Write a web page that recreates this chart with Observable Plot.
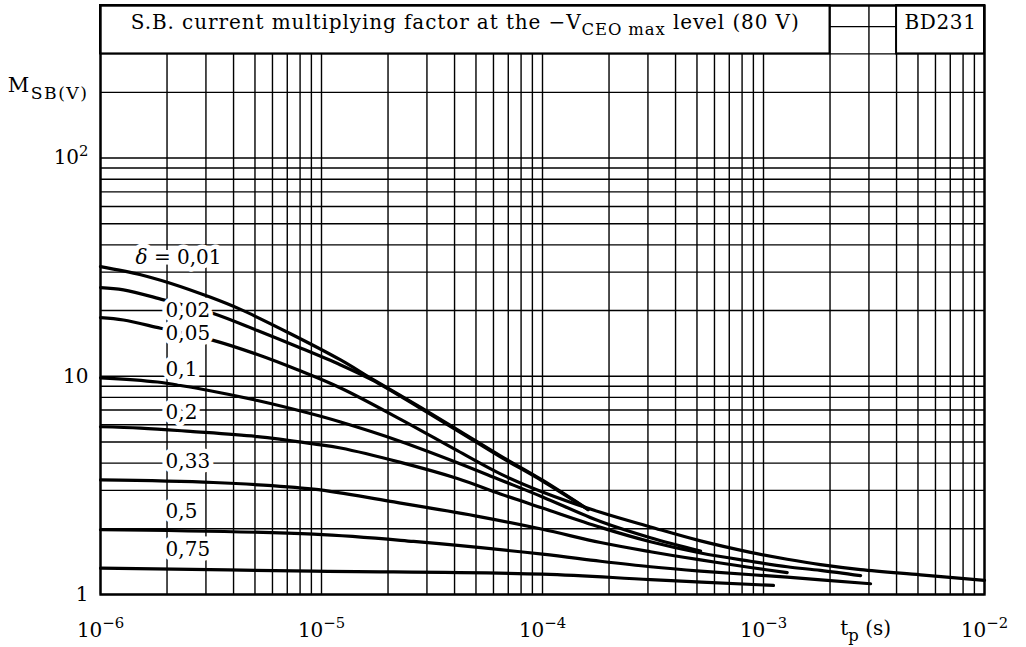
<!DOCTYPE html>
<html>
<head>
<meta charset="utf-8">
<script src="https://cdn.jsdelivr.net/npm/d3@7"></script>
<script src="https://cdn.jsdelivr.net/npm/@observablehq/plot@0.6"></script>
<style>
  html, body { margin: 0; padding: 0; background: #fff; }
  #chart { width: 1026px; height: 647px; }
  svg { display: block; }
</style>
</head>
<body>
<div id="chart"></div>
<script>
// ---------- axis ticks / labels ----------
const xTickValues = [1e-6, 1e-5, 1e-4, 1e-3, 1e-2];
const xTickLabels = ["10^{−6}", "10^{−5}", "10^{−4}", "10^{−3}", "10^{−2}"];
const yTickValues = [1, 10, 100];
const yTickLabels = ["1", "10", "10^{2}"];
const xDecades = [1e-6, 1e-5, 1e-4, 1e-3];
const yDecades = [1, 10, 100];
const mantissas = [1, 2, 3, 4, 5, 6, 7, 8, 9];
const xLast = 1e-2;
const yTop = 500;

// ---------- texts ----------
const titleText = "S.B. current multiplying factor at the −V_{CEO max} level (80 V)";
const typeText = "BD231";
const yAxisTitle = "M_{SB(V)}";
const xAxisTitle = "t_{p} (s)";

// header boxes (data units)
const boxX1 = [1e-6, 4e-3];
const boxX2 = [2e-3, 1e-2];
const boxY1 = [300, 300];
const boxY2 = [500, 500];

// ---------- curves: duty factor delta ----------
const deltaNames = ["0,01", "0,02", "0,05", "0,1", "0,2", "0,33", "0,5", "0,75"];
const deltaLabels = ["*{δ} = 0,01", "0,02", "0,05", "0,1", "0,2", "0,33", "0,5", "0,75"];
const labelT = [1.44e-6, 1.97e-6, 1.97e-6, 1.97e-6, 1.97e-6, 1.97e-6, 1.97e-6, 1.97e-6];
const labelM = [35.0, 20.0, 15.7, 10.7, 6.8, 4.05, 2.39, 1.60];

const t_001 = [1.0e-6, 1.52e-6, 2.07e-6, 3.15e-6, 4.30e-6, 7.24e-6, 1.22e-5, 1.70e-5, 2.81e-5, 4.26e-5, 6.45e-5, 1.0e-4, 1.61e-4];
const m_001 = [31.8, 29.2, 26.7, 23.0, 20.25, 15.67, 11.88, 9.70, 7.20, 5.58, 4.32, 3.34, 2.45];

const t_002 = [1.0e-6, 1.27e-6, 1.93e-6, 3.24e-6, 5.13e-6, 7.79e-6, 1.22e-5, 1.70e-5, 2.81e-5, 4.26e-5, 6.45e-5, 1.0e-4, 1.61e-4];
const m_002 = [25.5, 24.9, 22.4, 19.4, 16.2, 13.65, 11.27, 9.60, 7.12, 5.52, 4.27, 3.31, 2.45];

const t_005 = [1.0e-6, 1.27e-6, 1.87e-6, 3.24e-6, 5.13e-6, 7.79e-6, 1.22e-5, 2.28e-5, 4.12e-5, 6.45e-5, 1.0e-4, 1.83e-4, 3.08e-4, 5.19e-4, 8.73e-4, 1.28e-3, 1.81e-3, 2.75e-3, 5.13e-3, 1.0e-2];
const m_005 = [18.55, 18.1, 16.6, 14.61, 12.58, 10.71, 8.84, 6.35, 4.56, 3.57, 2.95, 2.38, 2.04, 1.76, 1.56, 1.45, 1.37, 1.30, 1.23, 1.16];

const t_01 = [1.0e-6, 1.81e-6, 3.05e-6, 5.13e-6, 8.64e-6, 1.22e-5, 2.28e-5, 4.12e-5, 6.45e-5, 1.0e-4, 1.83e-4, 3.08e-4, 5.19e-4];
const m_01 = [9.84, 9.41, 8.63, 7.74, 6.80, 6.17, 5.03, 4.02, 3.35, 2.80, 2.16, 1.82, 1.58];

const t_02 = [1.0e-6, 1.52e-6, 2.55e-6, 5.13e-6, 9.20e-6, 1.22e-5, 2.28e-5, 4.12e-5, 6.45e-5, 1.0e-4, 1.83e-4, 3.08e-4, 5.19e-4, 8.73e-4, 1.28e-3, 1.81e-3, 2.75e-3];
const m_02 = [5.87, 5.79, 5.59, 5.29, 4.90, 4.69, 4.03, 3.40, 2.89, 2.49, 2.03, 1.745, 1.55, 1.42, 1.34, 1.29, 1.22];

const t_033 = [1.0e-6, 3.24e-6, 9.20e-6, 2.05e-5, 5.24e-5, 1.0e-4, 1.83e-4, 3.08e-4, 5.19e-4, 8.73e-4, 1.28e-3];
const m_033 = [3.35, 3.26, 3.04, 2.67, 2.27, 1.99, 1.73, 1.57, 1.44, 1.33, 1.26];

const t_05 = [1.0e-6, 9.20e-6, 2.61e-5, 1.0e-4, 1.83e-4, 3.08e-4, 5.19e-4, 1.28e-3, 3.05e-3];
const m_05 = [1.98, 1.89, 1.75, 1.53, 1.42, 1.34, 1.28, 1.20, 1.12];

const t_075 = [1.0e-6, 9.20e-6, 1.0e-4, 3.08e-4, 1.11e-3];
const m_075 = [1.32, 1.28, 1.24, 1.17, 1.10];

// ---------- build tables ----------
const seriesT = [t_001, t_002, t_005, t_01, t_02, t_033, t_05, t_075];
const seriesM = [m_001, m_002, m_005, m_01, m_02, m_033, m_05, m_075];
const curveRows = [];
deltaNames.forEach((d, i) => seriesT[i].forEach((t, j) => curveRows.push({delta: d, t, M: seriesM[i][j]})));
const labelRows = deltaNames.map((d, i) => ({t: labelT[i], M: labelM[i], label: deltaLabels[i]}));

const xGrid = [];
xDecades.forEach(d => mantissas.forEach(m => xGrid.push(m * d)));
xGrid.push(xLast);
const yGrid = [];
yDecades.forEach(d => mantissas.forEach(m => { if (m * d <= yTop) yGrid.push(m * d); }));

const boxRows = boxX1.map((x1, i) => ({x1, x2: boxX2[i], y1: boxY1[i], y2: boxY2[i]}));
const headRows = [
  {x: Math.sqrt(boxX1[0] * boxX2[0]), y: Math.sqrt(boxY1[0] * boxY2[0]), text: titleText},
  {x: Math.sqrt(boxX1[1] * boxX2[1]), y: Math.sqrt(boxY1[1] * boxY2[1]), text: typeText}
];

const fmtX = d => xTickLabels[xTickValues.findIndex(v => Math.abs(Math.log10(v) - Math.log10(d)) < 1e-6)];
const fmtY = d => yTickLabels[yTickValues.findIndex(v => Math.abs(Math.log10(v) - Math.log10(d)) < 1e-6)];

const FONT = "DejaVu Serif";
const plot = Plot.plot({
  width: 1026,
  height: 647,
  marginLeft: 100,
  marginRight: 42,
  marginTop: 5,
  marginBottom: 53,
  style: {fontFamily: FONT, fontSize: "20px", background: "white", color: "black"},
  x: {type: "log", domain: [1e-6, 1e-2]},
  y: {type: "log", domain: [1, yTop]},
  marks: [
    Plot.ruleX(xGrid, {stroke: "black", strokeWidth: 1.4}),
    Plot.ruleY(yGrid, {stroke: "black", strokeWidth: 1.4}),
    Plot.rect(boxRows, {x1: "x1", x2: "x2", y1: "y1", y2: "y2", fill: "white", stroke: "black", strokeWidth: 2}),
    Plot.line(curveRows, {x: "t", y: "M", z: "delta", stroke: "black", strokeWidth: 3.2, curve: "catmull-rom"}),
    Plot.text(labelRows, {x: "t", y: "M", text: "label", textAnchor: "start", fill: "white", stroke: "white", strokeWidth: 9, strokeLinejoin: "round", fontSize: 20}),
    Plot.text(labelRows, {x: "t", y: "M", text: "label", textAnchor: "start", fill: "black", fontSize: 20}),
    Plot.text(headRows, {x: "x", y: "y", text: "text", lineAnchor: "bottom", dy: -1, fill: "black", fontSize: 20, className: "head"}),
    Plot.text([yAxisTitle], {y: [200], text: d => d, frameAnchor: "left", textAnchor: "end", lineAnchor: "bottom", dx: -12, fill: "black", fontSize: 21}),
    Plot.text([xAxisTitle], {x: [2.9e-3], text: d => d, frameAnchor: "bottom", lineAnchor: "bottom", dy: 40, fill: "black", fontSize: 20}),
    Plot.axisX({ticks: xTickValues, tickFormat: fmtX, tickSize: 0, tickPadding: 28, fontSize: 20, label: null}),
    Plot.axisY({ticks: yTickValues, tickFormat: fmtY, tickSize: 0, tickPadding: 12, fontSize: 20, label: null}),
    Plot.frame({stroke: "black", strokeWidth: 2.4})
  ]
});
document.getElementById("chart").append(plot);

// ---------- rich text (sup/sub/italic) ----------
function richify(el) {
  const s = el.textContent;
  if (!/[\^_*]\{/.test(s)) return;
  const fs = parseFloat(getComputedStyle(el).fontSize) || 20;
  const parts = [];
  const re = /([\^_*])\{([^}]*)\}|([^\^_*]+)/g;
  let m;
  while ((m = re.exec(s))) {
    if (m[3] !== undefined) parts.push({k: "n", t: m[3]});
    else parts.push({k: m[1], t: m[2]});
  }
  el.textContent = "";
  let cur = 0;
  for (const p of parts) {
    const ts = document.createElementNS("http://www.w3.org/2000/svg", "tspan");
    let base = 0, size = fs;
    if (p.k === "^") { base = -0.42 * fs; size = 0.74 * fs; }
    else if (p.k === "_") { base = 0.32 * fs; size = 0.82 * fs; }
    else if (p.k === "*") { ts.setAttribute("font-style", "italic"); }
    const dy = base - cur;
    if (dy) ts.setAttribute("dy", dy);
    ts.setAttribute("font-size", size);
    ts.textContent = p.t;
    el.appendChild(ts);
    cur = base;
  }
}
plot.querySelectorAll("text").forEach(richify);

// wider letter spacing for header texts and the M label, as in the printed sheet
plot.querySelectorAll("text").forEach(el => {
  const s = el.textContent;
  if (s.startsWith("S.B.")) el.setAttribute("letter-spacing", "0.9");
  if (s === "BD231") el.setAttribute("letter-spacing", "0.6");
  if (s.startsWith("MSB")) el.setAttribute("letter-spacing", "1.5");
});
</script>
</body>
</html>
